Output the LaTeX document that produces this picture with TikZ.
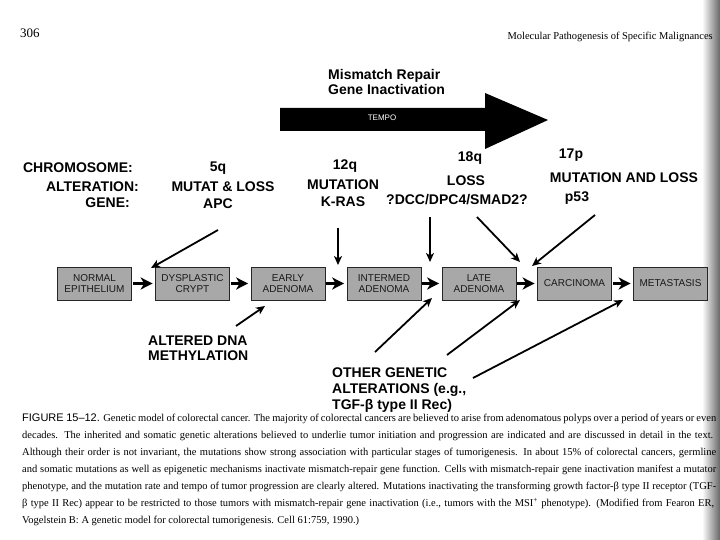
\documentclass[tikz,border=0pt]{standalone}
\usepackage{fontspec}
\setmainfont{Liberation Serif}
\setsansfont{Liberation Sans}
\usetikzlibrary{arrows.meta}
\tikzset{
 box/.style={draw=black!85, line width=0.7pt, fill=black!34, minimum width=74pt, minimum height=33pt, inner sep=0pt, align=center, text=black!90, font=\sffamily\fontsize{10}{11}\selectfont},
 lab/.style={font=\sffamily\bfseries\fontsize{14}{16}\selectfont, inner sep=0pt},
 flow/.style={-{Stealth[length=12pt,width=12pt,inset=3.5pt]}, line width=2.6pt},
 feed/.style={-{Stealth[length=9pt,width=8pt,inset=2.5pt]}, line width=1.8pt},
 captxt/.style={font=\fontsize{10.5}{12}\selectfont, inner sep=0pt, anchor=west},
}
\begin{document}
\begin{tikzpicture}[x=1pt,y=-1pt]
\useasboundingbox (0,0) rectangle (720,540);
\clip (0,0) rectangle (720,540);
\fill[white] (0,0) rectangle (720,540);
\shade[left color=white, right color=black!60] (702,0) rectangle (720,540);
% header
\node[inner sep=0pt, anchor=west, font=\fontsize{13}{14}\selectfont] (pg) at (20,33) {306};
\node[inner sep=0pt, anchor=east, font=\fontsize{10.5}{12}\selectfont] (hd) at (713,37) {Molecular Pathogenesis of Specific Malignances};
% tempo arrow
\fill[black] (280,108) -- (485,108) -- (485,93) -- (548,120) -- (485,149) -- (485,131) -- (280,131) -- cycle;
\node[inner sep=0pt, text=white, font=\sffamily\fontsize{8}{9}\selectfont] (tempo) at (382,118) {TEMPO};
\node[lab, font=\sffamily\bfseries\fontsize{14}{15}\selectfont, align=left, anchor=west] (mmr) at (328,82) {Mismatch Repair\\Gene Inactivation};
% left labels
\node[lab, anchor=east] (chr) at (133,168) {CHROMOSOME:};
\node[lab, anchor=east] (alt) at (139,187) {ALTERATION:};
\node[lab, anchor=east] (gen) at (130,203) {GENE:};
\node[lab] (q5) at (218,168) {5q};
\node[lab] (m5) at (223,187) {MUTAT \& LOSS};
\node[lab] (apc) at (218,204) {APC};
\node[lab] (q12) at (345,166) {12q};
\node[lab] (m12) at (343,185) {MUTATION};
\node[lab] (kras) at (343,202) {K-RAS};
\node[lab] (q18) at (470,158) {18q};
\node[lab] (m18) at (466,181) {LOSS};
\node[lab] (dcc) at (457,200) {?DCC/DPC4/SMAD2?};
\node[lab] (q17) at (571,155) {17p};
\node[lab] (m17) at (624,178) {MUTATION AND LOSS};
\node[lab] (p53) at (577,198) {p53};
% boxes
\node[box] (n1) at (94.5,283.5) {NORMAL\\EPITHELIUM};
\node[box] (n2) at (192.5,283.5) {DYSPLASTIC\\CRYPT};
\node[box] (n3) at (288,283.5) {EARLY\\ADENOMA};
\node[box] (n4) at (384,283.5) {INTERMED\\ADENOMA};
\node[box] (n5) at (479,283.5) {LATE\\ADENOMA};
\node[box] (n6) at (574.5,283.5) {CARCINOMA};
\node[box] (n7) at (670.5,283.5) {METASTASIS};
\foreach \a/\b in {n1/n2,n2/n3,n3/n4,n4/n5,n5/n6,n6/n7}
  \draw[flow, shorten <=1pt, shorten >=2.5pt] (\a) -- (\b);
% bottom labels
\node[lab, align=left, anchor=west, font=\sffamily\bfseries\fontsize{14}{15}\selectfont] (meth) at (148,348) {ALTERED DNA\\METHYLATION};
\node[lab, align=left, anchor=west] (oth) at (332,390) {OTHER GENETIC\\ALTERATIONS (e.g.,\\TGF-β type II Rec)};
% feed arrows
\coordinate (s1) at (218,230); \coordinate (t1) at (151,268);
\coordinate (s2) at (338,228); \coordinate (t2) at (338,265);
\coordinate (s3) at (430,217); \coordinate (t3) at (430,262);
\coordinate (s4) at (477,217); \coordinate (t4) at (520,262);
\coordinate (s5) at (595,215); \coordinate (t5) at (532,266);
\coordinate (s6) at (236,326); \coordinate (t6) at (265,306);
\coordinate (s7) at (375,352); \coordinate (t7) at (432,298);
\coordinate (s8) at (447,355); \coordinate (t8) at (520,300);
\coordinate (s9) at (473,378); \coordinate (t9) at (623,300);
\foreach \i in {1,...,9} \draw[feed] (s\i) -- (t\i);
% caption
\node[captxt] (c1) at (22,419) {\makebox[694pt][s]{{\sffamily\fontsize{11}{12}\selectfont FIGURE 15–12.} Genetic model of colorectal cancer. The majority of colorectal cancers are believed to arise from adenomatous polyps over a period of years or even}};
\node[captxt] (c2) at (22,436) {\makebox[691pt][s]{decades. The inherited and somatic genetic alterations believed to underlie tumor initiation and progression are indicated and are discussed in detail in the text.}};
\node[captxt] (c3) at (22,453) {\makebox[694pt][s]{Although their order is not invariant, the mutations show strong association with particular stages of tumorigenesis. In about 15\% of colorectal cancers, germline}};
\node[captxt] (c4) at (22,470) {\makebox[694pt][s]{and somatic mutations as well as epigenetic mechanisms inactivate mismatch-repair gene function. Cells with mismatch-repair gene inactivation manifest a mutator}};
\node[captxt] (c5) at (22,487) {\makebox[694pt][s]{phenotype, and the mutation rate and tempo of tumor progression are clearly altered. Mutations inactivating the transforming growth factor-β type II receptor (TGF-}};
\node[captxt] (c6) at (22,504) {\makebox[692pt][s]{β type II Rec) appear to be restricted to those tumors with mismatch-repair gene inactivation (i.e., tumors with the MSI\textsuperscript{+} phenotype). (Modified from Fearon ER,}};
\node[captxt] (c7) at (22,521) {Vogelstein B: A genetic model for colorectal tumorigenesis. Cell 61:759, 1990.)};
\end{tikzpicture}
\end{document}
